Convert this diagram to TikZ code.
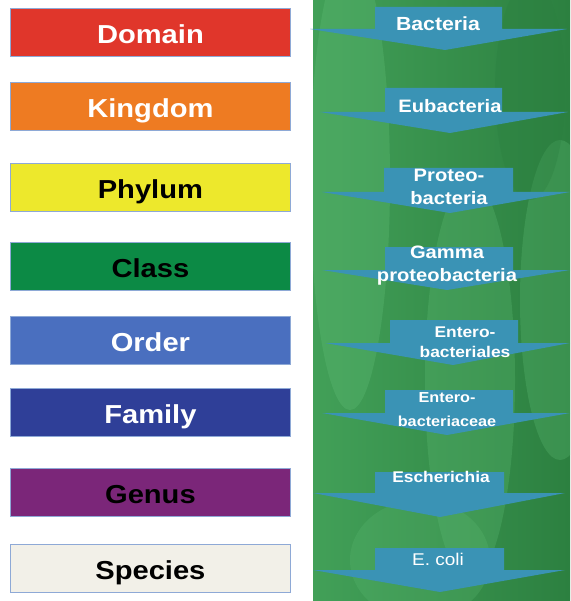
\documentclass[tikz,border=0pt]{standalone}
\usepackage{fontspec}
\setmainfont{Liberation Sans}
\newfontfamily\widesans[FakeStretch=1.12]{Liberation Sans}
\definecolor{domainred}{HTML}{E0362B}
\definecolor{kingdomorange}{HTML}{EE7B22}
\definecolor{phylumyellow}{HTML}{EDE82C}
\definecolor{classgreen}{HTML}{0C8A45}
\definecolor{orderblue}{HTML}{4A6FBF}
\definecolor{familyblue}{HTML}{2F3F98}
\definecolor{genuspurple}{HTML}{7B2679}
\definecolor{speciescream}{HTML}{F2F0E8}
\definecolor{boxedge}{HTML}{8EA9D6}
\definecolor{arrowteal}{HTML}{3A93B5}
\definecolor{panelgreen}{HTML}{42A058}
\definecolor{paneldark}{HTML}{2C8040}
\definecolor{panellight}{HTML}{5DBA73}

\begin{document}
\begin{tikzpicture}[x=1pt,y=-1pt,
  rankbox/.style={draw=boxedge,line width=0.8pt,minimum width=280pt,minimum height=48pt,
    inner sep=0pt,anchor=north west,text height=24pt,text depth=2pt,
    font=\widesans\fontsize{26}{30}\selectfont\bfseries},
  arrowfill/.style={fill=arrowteal},
  arrowtext/.style={text=white,align=center,inner sep=0pt,font=\widesans\fontsize{18}{23}\selectfont\bfseries},
  smalltext/.style={arrowtext,font=\widesans\fontsize{14.5}{20}\selectfont\bfseries}]
\useasboundingbox (0,0) rectangle (570,601);
% green panel
\shade[left color=panelgreen,right color=paneldark] (313,0) rectangle (570,601);
\begin{scope}
\clip (313,0) rectangle (570,601);
\fill[panellight,opacity=0.35] (350,180) ellipse (40 and 230);
\fill[panellight,opacity=0.30] (470,380) ellipse (45 and 200);
\fill[panellight,opacity=0.30] (560,300) ellipse (40 and 160);
\fill[panellight,opacity=0.25] (420,560) ellipse (70 and 60);
\fill[paneldark,opacity=0.35] (530,90) ellipse (35 and 110);
\end{scope}
% taxonomic ranks
\node[rankbox,fill=domainred,text=white] (domain) at (10,8) {Domain};
\node[rankbox,fill=kingdomorange,text=white] (kingdom) at (10,82) {Kingdom};
\node[rankbox,fill=phylumyellow,text=black] (phylum) at (10,163) {Phylum};
\node[rankbox,fill=classgreen,text=black] (class) at (10,242) {Class};
\node[rankbox,fill=orderblue,text=white] (order) at (10,316) {Order};
\node[rankbox,fill=familyblue,text=white] (family) at (10,388) {Family};
\node[rankbox,fill=genuspurple,text=black] (genus) at (10,468) {Genus};
\node[rankbox,fill=speciescream,text=black] (species) at (10,544) {Species};
% arrows
\fill[arrowfill] (375,7) -- (502,7) -- (502,29) -- (567,29) -- (445,50) -- (310,29) -- (375,29) -- cycle;
\node[arrowtext,font=\widesans\fontsize{19}{23}\selectfont\bfseries] (bacteria) at (438,24) {Bacteria};
\fill[arrowfill] (385,88) -- (502,88) -- (502,112) -- (568,112) -- (450,133) -- (320,112) -- (385,112) -- cycle;
\node[arrowtext] (eubacteria) at (450,106) {Eubacteria};
\fill[arrowfill] (384,168) -- (513,168) -- (513,192) -- (570,192) -- (450,213) -- (322,192) -- (384,192) -- cycle;
\node[arrowtext] (proteo) at (449,187) {Proteo-\\bacteria};
\fill[arrowfill] (385,247) -- (513,247) -- (513,270) -- (570,270) -- (447,290) -- (322,270) -- (385,270) -- cycle;
\node[arrowtext] (gamma) at (447,266) {Gamma\\proteobacteria};
\fill[arrowfill] (390,320) -- (518,320) -- (518,343) -- (570,343) -- (453,365) -- (325,343) -- (390,343) -- cycle;
\node[smalltext,font=\widesans\fontsize{15.5}{20}\selectfont\bfseries] (enterales) at (465,342) {Entero-\\bacteriales};
\fill[arrowfill] (385,390) -- (513,390) -- (513,413) -- (570,413) -- (447,435) -- (322,413) -- (385,413) -- cycle;
\node[smalltext,font=\widesans\fontsize{14.5}{24}\selectfont\bfseries] (enteraceae) at (447,410) {Entero-\\bacteriaceae};
\fill[arrowfill] (375,472) -- (504,472) -- (504,493) -- (565,493) -- (440,517) -- (313,493) -- (375,493) -- cycle;
\node[smalltext,font=\widesans\fontsize{15.5}{20}\selectfont\bfseries] (escherichia) at (441,477) {Escherichia};
\fill[arrowfill] (375,548) -- (504,548) -- (504,570) -- (565,570) -- (440,592) -- (313,570) -- (375,570) -- cycle;
\node[arrowtext,font=\widesans\fontsize{17}{21}\selectfont] (ecoli) at (438,559) {E. coli};
\end{tikzpicture}
\end{document}
